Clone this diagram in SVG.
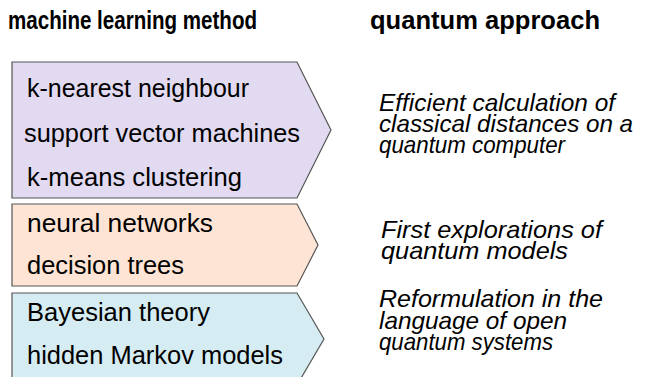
<svg xmlns="http://www.w3.org/2000/svg" width="646" height="377" viewBox="0 0 646 377">
<style>
.bg{fill:#ffffff}
.shape{stroke:#555555;stroke-width:1.2;stroke-linejoin:miter}
.p{fill:#e2daf1}
.o{fill:#fde4d4}
.b{fill:#d6ecf3}
.h{font-family:"Liberation Sans",Arial,sans-serif;font-weight:bold;font-size:26px;fill:#000}
.t{font-family:"Liberation Sans",Arial,sans-serif;font-size:25px;fill:#000}
.i{font-family:"Liberation Sans",Arial,sans-serif;font-style:italic;font-size:24px;fill:#000}
</style>
<rect class="bg" x="0" y="0" width="646" height="377"/>
<g id="headers">
<text class="h" x="8" y="29" textLength="249" lengthAdjust="spacingAndGlyphs">machine learning method</text>
<text class="h" x="370" y="29" textLength="230" lengthAdjust="spacingAndGlyphs">quantum approach</text>
</g>
<g id="node-distance">
<path class="shape p" d="M12,62 H297 L331,130 L297,198 H12 Z"/>
<text class="t" x="27" y="97" textLength="222" lengthAdjust="spacingAndGlyphs">k-nearest neighbour</text>
<text class="t" x="24" y="142" textLength="276" lengthAdjust="spacingAndGlyphs">support vector machines</text>
<text class="t" x="27" y="186" textLength="215" lengthAdjust="spacingAndGlyphs">k-means clustering</text>
</g>
<g id="node-models">
<path class="shape o" d="M12,204 H297 L318,245 L297,286 H12 Z"/>
<text class="t" x="27" y="232" textLength="186" lengthAdjust="spacingAndGlyphs">neural networks</text>
<text class="t" x="27" y="274" textLength="157" lengthAdjust="spacingAndGlyphs">decision trees</text>
</g>
<g id="node-open">
<path class="shape b" d="M12,293 H297 L324,339 L297,385 H12 Z"/>
<text class="t" x="27" y="321" textLength="183" lengthAdjust="spacingAndGlyphs">Bayesian theory</text>
<text class="t" x="27" y="364" textLength="256" lengthAdjust="spacingAndGlyphs">hidden Markov models</text>
</g>
<g id="approach-distance">
<text class="i" x="379" y="111" textLength="236" lengthAdjust="spacingAndGlyphs">Efficient calculation of</text>
<text class="i" x="379" y="132" textLength="254" lengthAdjust="spacingAndGlyphs">classical distances on a</text>
<text class="i" x="379" y="153" textLength="186" lengthAdjust="spacingAndGlyphs">quantum computer</text>
</g>
<g id="approach-models">
<text class="i" x="381" y="238" textLength="221" lengthAdjust="spacingAndGlyphs">First explorations of</text>
<text class="i" x="381" y="259" textLength="187" lengthAdjust="spacingAndGlyphs">quantum models</text>
</g>
<g id="approach-open">
<text class="i" x="379" y="307" textLength="224" lengthAdjust="spacingAndGlyphs">Reformulation in the</text>
<text class="i" x="379" y="329" textLength="188" lengthAdjust="spacingAndGlyphs">language of open</text>
<text class="i" x="379" y="350" textLength="174" lengthAdjust="spacingAndGlyphs">quantum systems</text>
</g>
<g id="connectors"></g>
</svg>
